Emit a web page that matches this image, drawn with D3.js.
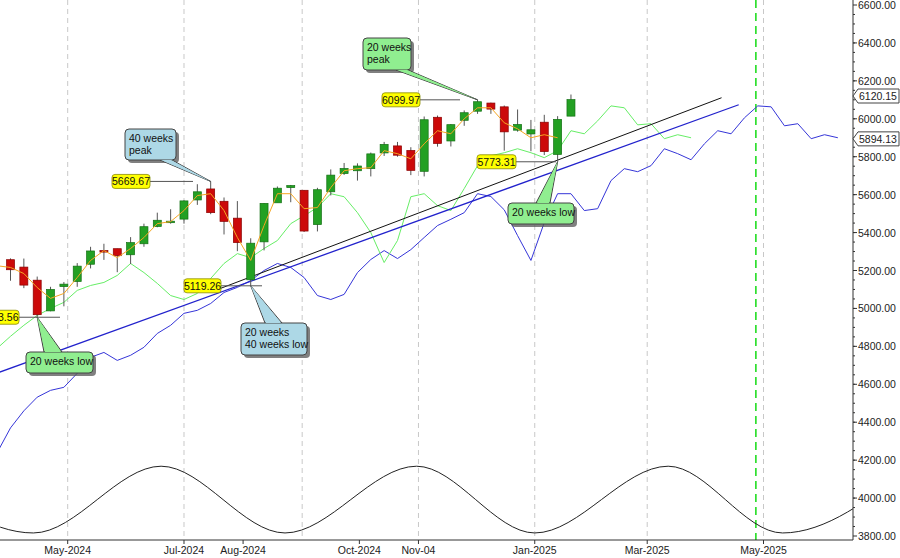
<!DOCTYPE html>
<html><head><meta charset="utf-8">
<script src="https://cdn.jsdelivr.net/npm/d3@7"></script>
<style>body{margin:0;background:#fff}svg{display:block;font-family:"Liberation Sans",Arial,sans-serif}</style>
</head><body><svg id="c" width="900" height="558"></svg>
<script>
// ---- data ----
const candleStart = "2024-04-01"; // Monday of first weekly candle
const opens  = [5257,5218,5149,4987,5115,5142,5233,5305,5315,5283,5341,5432,5459,5471,5572,5630,5565,5476,5151,5351,5557,5637,5623,5442,5615,5711,5726,5737,5820,5857,5833,5723,6008,5883,5992,6040,6083,6063,5940,5920,5982,5812,6014];
const highs  = [5264,5263,5168,5114,5139,5239,5325,5341,5315,5376,5447,5505,5523,5570,5655,5669.67,5585,5566,5370,5555,5643,5651,5623,5636,5733,5767,5765,5822,5878,5878,5850,6012,6017,5972,6044,6099.97,6085,6070,6049,5994,6021,6014,6128];
const lows   = [5146,5107,4953.56,4985,5011,5114,5211,5256,5191,5234,5325,5428,5447,5447,5546,5497,5390,5302,5119.26,5306,5560,5560,5403,5406,5596,5704,5674,5696,5804,5800,5703,5696,5853,5854,5963,6026,6026,5832,5932,5829,5809,5773.31,6014];
const closes = [5204,5123,4967,5100,5128,5223,5303,5304,5278,5347,5431,5465,5460,5567,5615,5505,5459,5347,5344,5554,5634,5648,5408,5626,5703,5738,5751,5815,5865,5808,5728,5995,5870,5969,6032,6090,6051,5931,5970,5942,5827,5997,6101];

const lineStart = "2024-03-25"; // Monday of first line point
const shortAvg = [5225,5216,5184,5110,5053,5079,5163,5253,5305,5268,5316,5374,5447,5458,5516,5595,5605,5516,5374,5253,5437,5605,5605,5526,5532,5637,5726,5737,5742,5832,5816,5789,5868,5937,5921,6000,6058,6058,5979,5947,5900,5916,5900];
const cycle20 = [4790,4853,4911,4963,5000,5032,5095,5121,5137,5174,5237,5189,5132,5068,5047,5079,5158,5237,5289,5268,5316,5358,5447,5489,5532,5605,5589,5505,5400,5242,5358,5589,5605,5542,5516,5632,5753,5805,5821,5842,5821,5795,5832,5937,5921,5989,6068,6058,5968,5974,5895,5916,5900];
const cycle40 = [4240,4370,4460,4532,4568,4584,4658,4742,4768,4726,4753,4795,4868,4911,4974,4990,5026,5084,5111,5147,5200,5237,5216,5163,5068,5047,5074,5189,5258,5305,5263,5310,5374,5437,5470,5505,5605,5590,5520,5384,5253,5453,5605,5605,5516,5526,5674,5737,5721,5753,5842,5816,5784,5868,5937,5921,6005,6068,6063,5963,5974,5895,5916,5900];

const trendBlue  = [["2024-03-26",4663],["2025-04-18",6074]];
const trendBlack = [["2024-07-20",5105],["2025-04-09",6111]];

const waveDates  = ["2024-02-04","2024-04-13","2024-06-19","2024-08-23","2024-10-31","2025-01-01","2025-03-12","2025-05-11","2025-07-18"];
const waveValues = [4168,3816,4168,3816,4168,3816,4168,3816,4168];

const yTicks = [3800,4000,4200,4400,4600,4800,5000,5200,5400,5600,5800,6000,6200,6400,6600];
const xTickDates  = ["2024-05-01","2024-07-01","2024-08-01","2024-10-01","2024-11-01","2025-01-01","2025-03-01","2025-05-01"];
const xTickLabels = ["May-2024","Jul-2024","Aug-2024","Oct-2024","Nov-04","Jan-2025","Mar-2025","May-2025"];
const gridDates   = ["2024-05-01","2024-07-01","2024-09-01","2024-11-01","2025-01-01","2025-03-01","2025-05-01"];
const cycleMarkerDate = "2025-04-27";

const priceLabels = [["2024-04-15",4953.56,"4953.56"],["2024-07-15",5669.67,"5669.67"],["2024-08-05",5119.26,"5119.26"],["2024-12-02",6099.97,"6099.97"],["2025-01-13",5773.31,"5773.31"]];
const lastValues = [[6120.15,"6120.15"],[5894.13,"5894.13"]];

// ---- scales ----
const P = d3.timeParse("%Y-%m-%d");
const svg = d3.select("#c");
const W = 853, H = 540;
const x = d3.scaleTime().domain([P("2024-05-01"),P("2025-05-01")]).range([67.7,763.5]);
const y = d3.scaleLinear().domain([3800,6600]).range([536,5]);
const cDate = i => d3.timeMonday.offset(P(candleStart), i);
const lDate = i => d3.timeMonday.offset(P(lineStart), i);

svg.append("defs").append("clipPath").attr("id","clip").append("rect").attr("width",W).attr("height",H);
const g = svg.append("g").attr("clip-path","url(#clip)");

// grid
g.selectAll(".grid").data(gridDates).join("line")
  .attr("x1",d=>x(P(d))).attr("x2",d=>x(P(d))).attr("y1",0).attr("y2",H)
  .attr("stroke","#c8c8c8").attr("stroke-dasharray","5,4");
g.append("line").attr("x1",x(P(cycleMarkerDate))).attr("x2",x(P(cycleMarkerDate))).attr("y1",0).attr("y2",H)
  .attr("stroke","#22dd22").attr("stroke-width",1.6).attr("stroke-dasharray","8,5");

// wave
g.append("path").datum(waveDates.map((d,i)=>[P(d),waveValues[i]]))
  .attr("d",d3.line().x(d=>x(d[0])).y(d=>y(d[1])).curve(d3.curveMonotoneX))
  .attr("fill","none").attr("stroke","#222").attr("stroke-width",1);

// cycle lines
const ln = d3.line().x((d,i)=>x(lDate(i))).y(d=>y(d));
g.append("path").attr("d",ln(cycle40)).attr("fill","none").attr("stroke","#3535d8").attr("stroke-width",1);
g.append("path").attr("d",ln(cycle20)).attr("fill","none").attr("stroke","#66ee66").attr("stroke-width",1);

// trendlines
const tl = d3.line().x(d=>x(P(d[0]))).y(d=>y(d[1]));
g.append("path").attr("d",tl(trendBlack)).attr("stroke","#111").attr("stroke-width",1);
g.append("path").attr("d",tl(trendBlue)).attr("stroke","#2222cc").attr("stroke-width",1.3);

// candles
const idx = d3.range(opens.length);
const cg = g.append("g");
cg.selectAll(".wick").data(idx).join("line")
  .attr("x1",i=>x(cDate(i))).attr("x2",i=>x(cDate(i)))
  .attr("y1",i=>y(highs[i])).attr("y2",i=>y(lows[i])).attr("stroke","#555");
cg.selectAll(".body").data(idx).join("rect")
  .attr("x",i=>x(cDate(i))-4).attr("width",8)
  .attr("y",i=>y(Math.max(opens[i],closes[i])))
  .attr("height",i=>Math.max(1.5,Math.abs(y(opens[i])-y(closes[i]))))
  .attr("fill",i=>closes[i]>=opens[i]?"#23a023":"#cc0a0a")
  .attr("stroke",i=>closes[i]>=opens[i]?"#137013":"#8a0000").attr("stroke-width",0.7);

// short average
g.append("path").attr("d",ln(shortAvg)).attr("fill","none").attr("stroke","#f5a623").attr("stroke-width",1);

// price labels
priceLabels.forEach(([d,v,t])=>{
  const py=y(v);
  const cfg = {"4953.56":[-20,19,60],"5669.67":[112,150,193],"5119.26":[184,221,262],"6099.97":[382,420,460],"5773.31":[477,516,556]}[t];
  g.append("line").attr("x1",cfg[1]).attr("x2",cfg[2]).attr("y1",py).attr("y2",py).attr("stroke","#555");
  g.append("rect").attr("x",cfg[0]).attr("y",py-7).attr("width",cfg[1]-cfg[0]).attr("height",14).attr("rx",3)
    .attr("fill","#ffff00").attr("stroke","#8a8a00").attr("stroke-width",0.8);
  g.append("text").attr("x",(cfg[0]+cfg[1])/2).attr("y",py+4).attr("text-anchor","middle")
    .attr("font-size",10.5).attr("fill","#111").text(t);
});

// callouts
function callout(bx,by,bw,bh,fill,lines,base,tip){
  const c=g.append("g");
  c.append("rect").attr("x",bx+3).attr("y",by+3).attr("width",bw).attr("height",bh).attr("rx",4).attr("fill","#555").attr("opacity",0.75);
  c.append("polygon").attr("points",[base[0],base[1],tip].map(p=>p.join(",")).join(" ")).attr("fill",fill).attr("stroke","#444");
  c.append("rect").attr("x",bx).attr("y",by).attr("width",bw).attr("height",bh).attr("rx",4).attr("fill",fill).attr("stroke","#444");
  c.append("polygon").attr("points",[[base[0][0]+(base[0][0]<base[1][0]?1:-1),base[0][1]],[base[1][0]+(base[0][0]<base[1][0]?-1:1),base[1][1]],tip].map(p=>p.join(",")).join(" ")).attr("fill",fill);
  lines.forEach((t,k)=>c.append("text").attr("x",bx+4).attr("y",by+13+k*12).attr("font-size",10.5).attr("fill","#111").text(t));
}
const gf="#90ee90", bf="#add8e6";
callout(125,129,51,31,bf,["40 weeks","peak"],[[160,160],[172,160]],[x(cDate(15)),y(5669.67)]);
callout(363,38,48,32,gf,["20 weeks","peak"],[[396,70],[408,70]],[x(cDate(35)),y(6099.97)]);
callout(26,352,67,21,gf,["20 weeks low"],[[44,352],[62,352]],[x(cDate(2)),y(4953.56)]);
callout(241,323,66,32,bf,["20 weeks","40 weeks low"],[[265,323],[282,323]],[x(cDate(18)),y(5119.26)]);
callout(508,203,66,21,gf,["20 weeks low"],[[536,203],[550,203]],[x(cDate(41)),y(5773.31)]);

// axes
const ax = svg.append("g").attr("font-size",10.5).attr("fill","#222");
ax.append("line").attr("x1",W).attr("x2",W).attr("y1",0).attr("y2",H).attr("stroke","#333");
ax.append("line").attr("x1",0).attr("x2",W).attr("y1",H).attr("y2",H).attr("stroke","#333");
yTicks.forEach(v=>{
  ax.append("line").attr("x1",W).attr("x2",W+4).attr("y1",y(v)).attr("y2",y(v)).attr("stroke","#333");
  ax.append("text").attr("x",W+5).attr("y",y(v)+4).text(v.toFixed(2));
});
d3.range(3850,6600,50).forEach(v=>ax.append("line").attr("x1",W).attr("x2",W+2).attr("y1",y(v)).attr("y2",y(v)).attr("stroke","#333"));
xTickDates.forEach((d,i)=>{
  const px=x(P(d));
  ax.append("line").attr("x1",px).attr("x2",px).attr("y1",H).attr("y2",H+4).attr("stroke","#333");
  ax.append("text").attr("x",px).attr("y",H+14).attr("text-anchor","middle").text(xTickLabels[i]);
});
lastValues.forEach(([v,t])=>{
  const py=y(v);
  ax.append("path").attr("d",`M${W},${py} L${W+5},${py-7} L${899},${py-7} L${899},${py+7} L${W+5},${py+7} Z`)
    .attr("fill","#fff").attr("stroke","#444");
  ax.append("text").attr("x",W+6).attr("y",py+4).text(t);
});
</script></body></html>
